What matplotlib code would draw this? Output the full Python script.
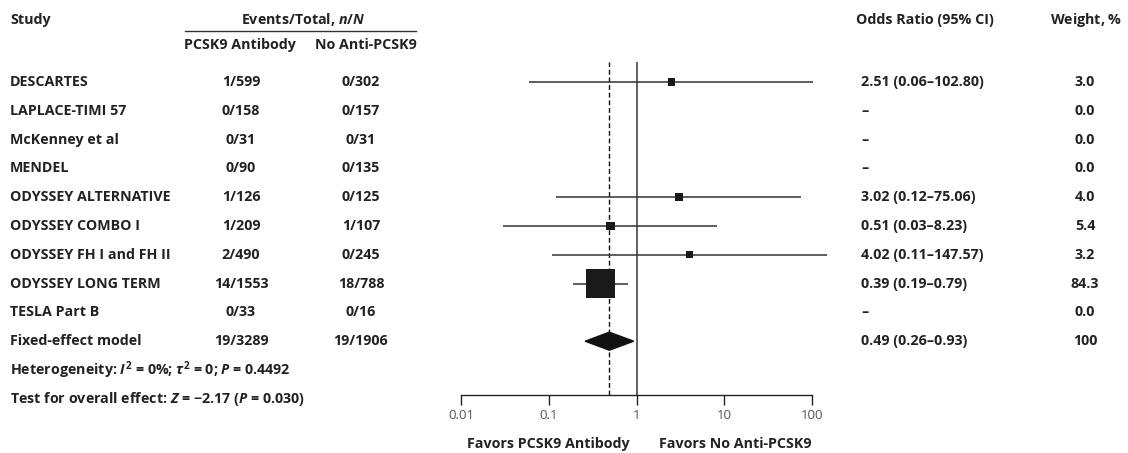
import numpy as np
import matplotlib
matplotlib.use("Agg")
import matplotlib.pyplot as plt
from matplotlib.patches import Polygon
from matplotlib.lines import Line2D
from matplotlib.transforms import blended_transform_factory

plt.rcParams['font.family'] = ['Open Sans', 'DejaVu Sans']
plt.rcParams['mathtext.fontset'] = 'custom'
plt.rcParams['mathtext.rm'] = 'Open Sans:bold'
plt.rcParams['mathtext.it'] = 'Open Sans:italic:bold'
plt.rcParams['mathtext.bf'] = 'Open Sans:bold'

# data
studies = ["DESCARTES", "LAPLACE-TIMI 57", "McKenney et al", "MENDEL",
           "ODYSSEY ALTERNATIVE", "ODYSSEY COMBO I", "ODYSSEY FH I and FH II",
           "ODYSSEY LONG TERM", "TESLA Part B"]
pcsk9 = ["1/599", "0/158", "0/31", "0/90", "1/126", "1/209", "2/490", "14/1553", "0/33"]
control = ["0/302", "0/157", "0/31", "0/135", "0/125", "1/107", "0/245", "18/788", "0/16"]
odds = [2.51, np.nan, np.nan, np.nan, 3.02, 0.51, 4.02, 0.39, np.nan]
ci_lo = [0.06, np.nan, np.nan, np.nan, 0.12, 0.03, 0.11, 0.19, np.nan]
ci_hi = [102.80, np.nan, np.nan, np.nan, 75.06, 8.23, 147.57, 0.79, np.nan]
weights = [3.0, 0.0, 0.0, 0.0, 4.0, 5.4, 3.2, 84.3, 0.0]

pooled_label = "Fixed-effect model"
pooled_pcsk9 = "19/3289"
pooled_control = "19/1906"
pooled_or, pooled_lo, pooled_hi = 0.49, 0.26, 0.93
pooled_weight = "100"

ticks = [0.01, 0.1, 1, 10, 100]
tick_labels = ["0.01", "0.1", "1", "10", "100"]

W, H = 1128, 453
fig = plt.figure(figsize=(W / 100, H / 100), dpi=100)

# forest panel: x 461..812 px, y 62..395 px
row_px = 28.8
y0_px = 82
top_px, bot_px = 62, 395
ax = fig.add_axes([461 / W, 1 - bot_px / H, (812 - 461) / W, (bot_px - top_px) / H])
ax.set_xscale('log')
ax.set_xlim(0.01, 100)
ax.set_ylim((bot_px - y0_px) / row_px, (top_px - y0_px) / row_px)
for s in ['top', 'right', 'left']:
    ax.spines[s].set_visible(False)
ax.spines['bottom'].set_color('#222222')
ax.spines['bottom'].set_linewidth(1.0)
ax.set_yticks([])
ax.set_xticks(ticks)
ax.set_xticklabels(tick_labels)
ax.minorticks_off()
ax.tick_params(axis='x', length=7, width=1.0, color='#222222', labelsize=9.5,
               labelcolor='#555555', pad=3)

ax.axvline(1, color='#555555', lw=1.3, zorder=1)
ax.axvline(pooled_or, color='#111111', lw=1.0, ls=(0, (3.5, 2)), zorder=1)

ys = np.arange(len(studies))
odds_a = np.array(odds)
ok = ~np.isnan(odds_a)
ax.hlines(ys[ok], np.array(ci_lo)[ok], np.array(ci_hi)[ok], color='#333333',
          lw=1.1, clip_on=False, zorder=2)
side_px = 2.2 + 2.9 * np.sqrt(np.array(weights)[ok])
ax.scatter(odds_a[ok], ys[ok], marker='s', s=(side_px * 0.72) ** 2,
           color='#1a1a1a', edgecolors='none', zorder=3, clip_on=False)

py = len(studies)
dh = 9 / row_px
diamond = Polygon([(pooled_lo, py), (pooled_or, py - dh), (pooled_hi, py),
                   (pooled_or, py + dh)], closed=True, color='#111111', zorder=3)
ax.add_patch(diamond)

# text columns
tr = blended_transform_factory(fig.transFigure, ax.transData)
fs = 10.3
kw = dict(transform=tr, fontsize=fs, fontweight='bold', color='#222222', va='center')


def ry(px):
    return (px - y0_px) / row_px


fig.text(10 / W, ry(20), "Study", ha='left', **kw)
fig.text(303 / W, ry(20), r"Events/Total, $\mathit{n/N}$", ha='center', **kw)
fig.add_artist(Line2D([185 / W, 416 / W], [ry(31), ry(31)], transform=tr,
                      color='#333333', lw=1.0))
fig.text(240 / W, ry(45), "PCSK9 Antibody", ha='center', **kw)
fig.text(366 / W, ry(45), "No Anti-PCSK9", ha='center', **kw)
fig.text(856 / W, ry(20), "Odds Ratio (95% CI)", ha='left', **kw)
fig.text(1086 / W, ry(20), r"Weight, $\mathit{\%}$", ha='center', **kw)

for i, name in enumerate(studies):
    fig.text(10 / W, i, name, ha='left', **kw)
    fig.text(241 / W, i, pcsk9[i], ha='center', **kw)
    fig.text(361 / W, i, control[i], ha='center', **kw)
    if np.isnan(odds[i]):
        lab = "\u2013"
    else:
        lab = f"{odds[i]:.2f} ({ci_lo[i]:.2f}\u2013{ci_hi[i]:.2f})"
    fig.text(861 / W, i, lab, ha='left', **kw)
    fig.text(1085 / W, i, f"{weights[i]:.1f}", ha='center', **kw)

fig.text(10 / W, py, pooled_label, ha='left', **kw)
fig.text(241 / W, py, pooled_pcsk9, ha='center', **kw)
fig.text(361 / W, py, pooled_control, ha='center', **kw)
fig.text(861 / W, py, f"{pooled_or:.2f} ({pooled_lo:.2f}\u2013{pooled_hi:.2f})", ha='left', **kw)
fig.text(1085 / W, py, pooled_weight, ha='center', **kw)

fig.text(10 / W, py + 1, r"Heterogeneity: $\mathit{I}^2$ = 0%; $\tau^2$ = 0; $\mathit{P}$ = 0.4492",
         ha='left', **kw)
fig.text(10 / W, py + 2, "Test for overall effect: $\\mathit{Z}$ = \u22122.17 ($\\mathit{P}$ = 0.030)",
         ha='left', **kw)

fig.text(548 / W, ry(444), "Favors PCSK9 Antibody", ha='center', **kw)
fig.text(735 / W, ry(444), "Favors No Anti-PCSK9", ha='center', **kw)

fig.savefig("out.png", dpi=100, facecolor='white')
